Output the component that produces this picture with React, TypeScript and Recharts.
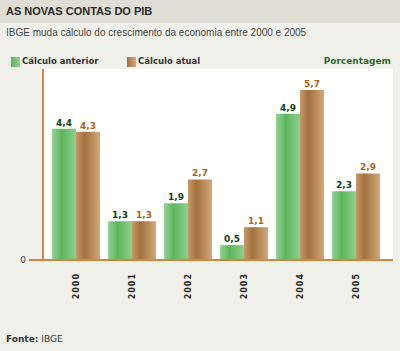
import { BarChart, Bar, XAxis, YAxis, CartesianGrid, LabelList } from "recharts"

const years = ["2000", "2001", "2002", "2003", "2004", "2005"]
const anterior = [4.4, 1.3, 1.9, 0.5, 4.9, 2.3]
const atual = [4.3, 1.3, 2.7, 1.1, 5.7, 2.9]

const data = years.map((y, i) => ({ year: y, anterior: anterior[i], atual: atual[i] }))

const AXIS = "#d4873a"
const fmt = (v: any) => String(v).replace(".", ",")

const YearTick = ({ x, y, payload }: any) => (
  <text
    transform={`translate(${x + 3},${y + 5}) rotate(-90)`}
    textAnchor="end"
    fontSize={8}
    fontWeight="bold"
    letterSpacing={1}
    fontFamily="DejaVu Sans, sans-serif"
    fill="#222"
  >
    {payload.value}
  </text>
)

const abs = (l: number, t: number): React.CSSProperties => ({ position: "absolute", left: l, top: t, whiteSpace: "nowrap" })

export default function App() {
  return (
    <div style={{ position: "absolute", left: 0, top: 0, width: 400, height: 351, background: "#f1f1eb", overflow: "hidden" }}>
      <div style={{ position: "absolute", left: 0, top: 0, width: 400, height: 23, background: "#deded4" }} />
      <div style={{ position: "absolute", left: 0, top: 0 }}>
        <BarChart width={400} height={351} data={data} margin={{ top: 69, right: 7, bottom: 0, left: 0 }} barCategoryGap={4} barGap={0}>
          <defs>
            <linearGradient id="gGreen" x1="0" y1="0" x2="1" y2="0">
              <stop offset="0" stopColor="#92d492" />
              <stop offset="0.4" stopColor="#5db65d" />
              <stop offset="1" stopColor="#8ccf8c" />
            </linearGradient>
            <linearGradient id="gBrown" x1="0" y1="0" x2="1" y2="0">
              <stop offset="0" stopColor="#c99a68" />
              <stop offset="0.35" stopColor="#a3713f" />
              <stop offset="1" stopColor="#d2a878" />
            </linearGradient>
          </defs>
          <CartesianGrid fill="#ffffff" horizontal={false} vertical={false} />
          <XAxis
            dataKey="year"
            height={91}
            padding={{ left: 5, right: 9 }}
            axisLine={{ stroke: AXIS, strokeWidth: 2 }}
            tickLine={false}
            interval={0}
            tick={<YearTick />}
          />
          <YAxis
            width={43}
            domain={[0, 6.4]}
            ticks={[0]}
            tickSize={14}
            tickMargin={3}
            axisLine={{ stroke: AXIS, strokeWidth: 2 }}
            tickLine={{ stroke: AXIS, strokeWidth: 2 }}
            tick={{ fontSize: 9, fill: "#444", fontFamily: "DejaVu Sans, sans-serif" }}
          />
          <Bar dataKey="anterior" fill="url(#gGreen)" isAnimationActive={false}>
            <LabelList dataKey="anterior" position="top" offset={3} formatter={fmt}
              style={{ fontSize: 9, fontWeight: "bold", fill: "#0f3f14", fontFamily: "DejaVu Sans, sans-serif" }} />
          </Bar>
          <Bar dataKey="atual" fill="url(#gBrown)" isAnimationActive={false}>
            <LabelList dataKey="atual" position="top" offset={3} formatter={fmt}
              style={{ fontSize: 9, fontWeight: "bold", fill: "#b0621a", fontFamily: "DejaVu Sans, sans-serif" }} />
          </Bar>
        </BarChart>
      </div>
      <div style={{ ...abs(6, 5), fontFamily: "Liberation Sans, Arial, sans-serif", fontWeight: "bold", fontSize: 11, color: "#2a2a2a" }}>
        AS NOVAS CONTAS DO PIB
      </div>
      <div style={{ ...abs(6, 27), fontFamily: "Liberation Sans, Arial, sans-serif", fontSize: 10, color: "#444" }}>
        IBGE muda cálculo do crescimento da economia entre 2000 e 2005
      </div>
      <div style={{ ...abs(11, 57), width: 9, height: 10, background: "linear-gradient(90deg,#5db65d,#8fd18f)" }} />
      <div style={{ ...abs(22, 56), fontFamily: "DejaVu Sans, sans-serif", fontWeight: "bold", fontSize: 8.5, color: "#333" }}>
        Cálculo anterior
      </div>
      <div style={{ ...abs(127, 57), width: 9, height: 10, background: "linear-gradient(90deg,#a3713f,#d2a878)" }} />
      <div style={{ ...abs(138, 56), fontFamily: "DejaVu Sans, sans-serif", fontWeight: "bold", fontSize: 8.5, color: "#333" }}>
        Cálculo atual
      </div>
      <div style={{ position: "absolute", right: 9, top: 56, fontFamily: "DejaVu Sans, sans-serif", fontWeight: "bold", fontSize: 9, color: "#2c6b2c", whiteSpace: "nowrap" }}>
        Porcentagem
      </div>
      <div style={{ ...abs(6, 334), fontFamily: "DejaVu Sans, sans-serif", fontSize: 9, color: "#333" }}>
        <b>Fonte:</b> IBGE
      </div>
    </div>
  )
}
